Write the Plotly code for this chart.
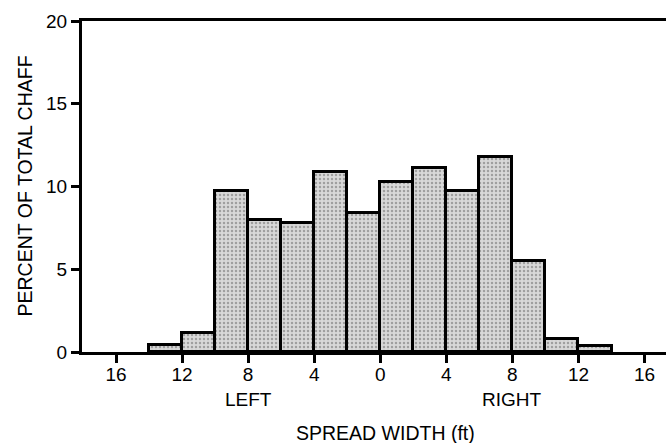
import plotly.graph_objects as go

bin_centers = [-13, -11, -9, -7, -5, -3, -1, 1, 3, 5, 7, 9, 11, 13]
percent = [0.4, 1.15, 9.7, 8.0, 7.8, 10.9, 8.4, 10.3, 11.1, 9.7, 11.8, 5.5, 0.8, 0.35]
x_tick_vals = [-16, -12, -8, -4, 0, 4, 8, 12, 16]
x_tick_text = ["16", "12", "8", "4", "0", "4", "8", "12", "16"]
y_tick_vals = [0, 5, 10, 15, 20]
side_labels = ["LEFT", "RIGHT"]
side_label_x = [-8, 8]

FONT = "Liberation Sans, Arial, Helvetica, sans-serif"

fig = go.Figure()
fig.add_trace(go.Bar(
    x=bin_centers, y=percent, width=2,
    marker=dict(
        color="#d4d4d4",
        line=dict(color="black", width=3),
        pattern=dict(shape=".", fgcolor="#666666", bgcolor="#d8d8d8", size=4, solidity=0.3),
    ),
    showlegend=False,
    hoverinfo="skip",
))

for lab, xv in zip(side_labels, side_label_x):
    fig.add_annotation(x=xv, y=-0.142, xref="x", yref="paper", text=lab,
                       showarrow=False, font=dict(size=19, color="black", family=FONT),
                       yanchor="middle")
fig.add_annotation(x=0.3, y=-0.245, xref="x", yref="paper", text="SPREAD WIDTH (ft)",
                   showarrow=False, font=dict(size=19.5, color="black", family=FONT),
                   yanchor="middle")
fig.add_annotation(x=-0.0993, y=0.50, xref="paper", yref="paper", text="PERCENT OF TOTAL CHAFF",
                   showarrow=False, textangle=-90, font=dict(size=19.5, color="black", family=FONT),
                   xanchor="center", yanchor="middle")

fig.update_layout(
    width=666, height=443,
    margin=dict(l=82, r=0, t=21, b=91, autoexpand=False),
    paper_bgcolor="white", plot_bgcolor="white",
    font=dict(family=FONT, size=19, color="black"),
    bargap=0,
    xaxis=dict(range=[-18.06, 17.3], tickvals=x_tick_vals, ticktext=x_tick_text,
               showline=True, linecolor="black", linewidth=3, mirror=True,
               ticks="outside", ticklen=8, tickwidth=3, tickcolor="black",
               ticklabelstandoff=-5,
               showgrid=False, zeroline=False, tickfont=dict(size=19), automargin=False),
    yaxis=dict(range=[0, 20], tickvals=y_tick_vals,
               showline=True, linecolor="black", linewidth=3,
               ticks="outside", ticklen=8, tickwidth=3, tickcolor="black",
               showgrid=False, zeroline=False, tickfont=dict(size=19), automargin=False),
)

fig.write_html("out.html", config={"displayModeBar": False},
               post_script="document.body.style.margin='0';document.body.style.overflow='hidden';")
